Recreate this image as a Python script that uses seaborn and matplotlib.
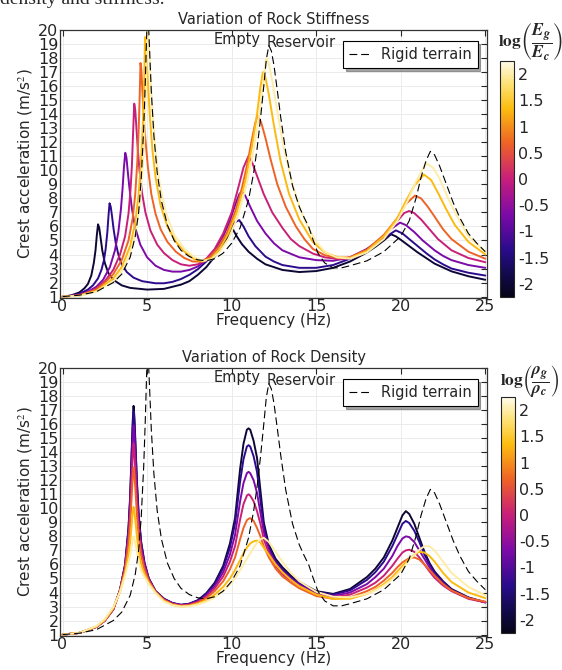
import numpy as np
import pandas as pd
import seaborn as sns
import matplotlib
matplotlib.use("Agg")
import matplotlib.pyplot as plt
from matplotlib.colors import LinearSegmentedColormap, Normalize
from matplotlib.cm import ScalarMappable

# ---- data, (frequency Hz, acceleration m/s2) ----
levels = [-2, -1.33, -0.67, 0, 0.67, 1.33, 2]

rigid = [(0, 1.0), (1, 1.1), (2, 1.35), (3, 2.0), (3.5, 2.6), (4, 3.8), (4.3, 5.3), (4.5, 7.0),
         (4.65, 9.3), (4.8, 13), (4.9, 16.5), (4.97, 19.5), (5.02, 21), (5.08, 20.5), (5.15, 18.5),
         (5.25, 15.6), (5.4, 12.5), (5.6, 9.8), (5.85, 7.8), (6.2, 6.1), (6.6, 5.0), (7, 4.3),
         (7.5, 3.85), (8, 3.62), (8.5, 3.55), (9, 3.7), (9.5, 4.1), (10, 4.8), (10.5, 5.9),
         (11, 7.9), (11.3, 9.8), (11.5, 11.5), (11.7, 13.6), (11.9, 16.0), (12.05, 17.9),
         (12.2, 18.9), (12.35, 18.5), (12.5, 17.5), (12.7, 15.7), (12.9, 13.8), (13.2, 11.3),
         (13.6, 8.9), (14, 7.4), (14.3, 6.6), (14.55, 6.0), (14.8, 5.1), (15.1, 4.1), (15.5, 3.4),
         (16, 3.05), (16.5, 3.05), (17, 3.2), (18, 3.55), (19, 4.2), (20, 5.3), (20.5, 6.4),
         (20.9, 8.0), (21.2, 9.5), (21.5, 10.7), (21.75, 11.35), (22, 11.1), (22.3, 10.3),
         (22.7, 9.0), (23.1, 7.7), (23.5, 6.6), (24, 5.5), (24.5, 4.8), (25, 4.2)]

# stiffness panel, one list per log(Eg/Ec) level
stiff_m2 = [(0, 1.0), (0.5, 1.08), (1, 1.3), (1.3, 1.6), (1.5, 1.9), (1.7, 2.5), (1.85, 3.4),
            (1.95, 4.3), (2.03, 5.4), (2.1, 6.15), (2.17, 5.9), (2.25, 5.2), (2.35, 4.3), (2.5, 3.4),
            (2.7, 2.7), (3, 2.2), (3.5, 1.8), (4, 1.62), (5, 1.5), (6, 1.55), (7, 1.85), (7.5, 2.1),
            (8, 2.55), (8.5, 3.1), (9, 3.85), (9.5, 4.7), (9.8, 5.3), (10.05, 5.85), (10.3, 5.3),
            (10.6, 4.75), (11, 4.2), (11.5, 3.7), (12, 3.3), (13, 2.9), (14, 2.75), (15, 2.82),
            (16, 3.05), (17, 3.5), (18, 4.15), (18.5, 4.55), (19, 5.0), (19.42, 5.44), (19.7, 5.3),
            (20, 5.05), (20.5, 4.6), (21, 4.15), (21.5, 3.75), (22, 3.35), (23, 2.8), (24, 2.45),
            (25, 2.2)]
stiff_m133 = [(0, 1.0), (0.5, 1.06), (1, 1.2), (1.5, 1.5), (1.8, 1.8), (2.1, 2.3), (2.3, 2.9),
              (2.45, 3.6), (2.55, 4.4), (2.65, 5.6), (2.72, 6.8), (2.78, 7.65), (2.85, 7.4),
              (2.93, 6.7), (3.02, 5.8), (3.15, 4.8), (3.3, 4.0), (3.5, 3.3), (3.8, 2.75), (4.2, 2.35),
              (4.7, 2.1), (5.5, 1.95), (6, 1.95), (6.5, 2.05), (7, 2.25), (7.5, 2.55), (8, 2.95),
              (8.5, 3.5), (9, 4.2), (9.5, 5.0), (9.9, 5.8), (10.2, 6.3), (10.45, 6.45), (10.7, 6.0),
              (11, 5.3), (11.4, 4.6), (12, 3.85), (12.5, 3.5), (13, 3.25), (14, 3.05), (15, 3.05),
              (16, 3.25), (17, 3.7), (18, 4.3), (18.8, 4.95), (19.3, 5.4), (19.71, 5.72), (20.1, 5.5),
              (20.5, 5.1), (21, 4.6), (21.5, 4.1), (22, 3.65), (22.5, 3.3), (23, 3.0), (24, 2.7),
              (25, 2.5)]
stiff_m067 = [(0, 1.0), (0.5, 1.05), (1, 1.15), (1.5, 1.35), (2, 1.7), (2.4, 2.2), (2.8, 3.1),
              (3.1, 4.3), (3.3, 5.6), (3.45, 7.2), (3.55, 8.7), (3.63, 10.2), (3.71, 11.25),
              (3.78, 10.9), (3.85, 10.0), (3.95, 8.8), (4.1, 7.3), (4.3, 5.9), (4.6, 4.7), (5, 3.8),
              (5.5, 3.2), (6, 2.9), (6.5, 2.78), (7, 2.78), (7.5, 2.9), (8, 3.15), (8.5, 3.6),
              (9, 4.3), (9.5, 5.3), (9.9, 6.4), (10.2, 7.5), (10.45, 8.3), (10.6, 8.5), (10.8, 8.2),
              (11.1, 7.4), (11.5, 6.4), (12, 5.5), (12.5, 4.8), (13, 4.3), (14, 3.8), (15, 3.6),
              (16, 3.55), (17, 3.8), (18, 4.4), (18.8, 5.1), (19.4, 5.8), (19.96, 6.27), (20.3, 6.1),
              (20.8, 5.6), (21.3, 5.0), (22, 4.3), (22.5, 3.9), (23, 3.6), (24, 3.25), (25, 3.05)]
stiff_0 = [(0, 1.0), (1, 1.1), (1.5, 1.28), (2, 1.6), (2.5, 2.1), (3, 2.9), (3.4, 4.0), (3.7, 5.3),
           (3.9, 6.9), (4.02, 8.6), (4.1, 10.3), (4.17, 12.6), (4.24, 14.75), (4.3, 14.3),
           (4.37, 13.0), (4.45, 11.5), (4.55, 10.0), (4.7, 8.4), (4.9, 7.0), (5.2, 5.7), (5.6, 4.7),
           (6, 4.1), (6.5, 3.6), (7, 3.3), (7.5, 3.2), (8, 3.3), (8.5, 3.7), (9, 4.4), (9.5, 5.5),
           (10, 7.0), (10.4, 8.8), (10.7, 10.2), (10.99, 11.0), (11.2, 10.6), (11.5, 9.6),
           (11.9, 8.3), (12.4, 7.0), (13, 5.9), (13.5, 5.1), (14, 4.6), (14.8, 4.07), (15.5, 3.8),
           (16.5, 3.65), (17, 3.75), (18, 4.3), (19, 5.3), (19.8, 6.4), (20.2, 6.95), (20.49, 7.1),
           (20.8, 6.95), (21.2, 6.5), (21.7, 5.8), (22.2, 5.1), (23, 4.3), (24, 3.75), (25, 3.45)]
stiff_067 = [(0, 1.0), (1, 1.08), (2, 1.5), (2.5, 2.0), (3, 2.6), (3.5, 3.6), (3.9, 5.0), (4.15, 6.6),
             (4.3, 8.3), (4.42, 10.6), (4.5, 12.8), (4.56, 15.2), (4.61, 17.65), (4.66, 17.2),
             (4.72, 15.7), (4.8, 14.0), (4.9, 12.2), (5.05, 10.2), (5.25, 8.3), (5.5, 6.9),
             (5.8, 5.8), (6.2, 4.9), (6.7, 4.2), (7.2, 3.75), (7.7, 3.5), (8.2, 3.5), (8.7, 3.8),
             (9.2, 4.5), (9.7, 5.5), (10.2, 7.0), (10.6, 8.7), (10.9, 10.3), (11.2, 12.2),
             (11.4, 13.4), (11.55, 13.9), (11.75, 13.4), (12, 12.3), (12.3, 10.8), (12.7, 9.0),
             (13.2, 7.4), (13.8, 6.0), (14.3, 5.1), (14.8, 4.4), (15.5, 3.95), (16.3, 3.75),
             (17, 3.8), (18, 4.35), (19, 5.4), (19.8, 6.6), (20.3, 7.6), (20.84, 8.2), (21.2, 8.0),
             (21.6, 7.4), (22, 6.7), (22.5, 5.8), (23, 5.1), (24, 4.2), (25, 3.7)]
stiff_133 = [(0, 1.0), (1, 1.07), (2, 1.4), (3, 2.3), (3.5, 3.1), (4, 4.6), (4.3, 6.3), (4.5, 8.3),
             (4.65, 10.8), (4.75, 13.3), (4.82, 16.0), (4.88, 19.5), (4.93, 19.0), (5.0, 17.4),
             (5.08, 15.6), (5.18, 13.6), (5.32, 11.4), (5.5, 9.5), (5.8, 7.5), (6.2, 6.0),
             (6.7, 4.9), (7.2, 4.2), (7.8, 3.65), (8.3, 3.5), (8.8, 3.75), (9.3, 4.4), (9.8, 5.5),
             (10.3, 7.0), (10.8, 9.2), (11.2, 11.7), (11.5, 14.0), (11.7, 15.9), (11.85, 17.0),
             (12.0, 16.6), (12.2, 15.4), (12.5, 13.2), (12.9, 10.6), (13.4, 8.3), (14, 6.5),
             (14.8, 4.9), (15.5, 4.15), (16.3, 3.8), (17, 3.75), (18, 4.25), (19, 5.3), (19.8, 6.6),
             (20.3, 7.8), (20.8, 8.9), (21.37, 9.7), (21.8, 9.3), (22.2, 8.4), (22.7, 7.2),
             (23.2, 6.1), (24, 4.9), (25, 4.0)]
stiff_2 = [(0, 1.0), (1, 1.05), (2, 1.35), (3, 2.1), (3.5, 2.8), (4, 4.1), (4.3, 5.4), (4.55, 7.4),
           (4.72, 9.8), (4.83, 12.2), (4.92, 15.2), (4.98, 18.0), (5.03, 19.9), (5.1, 19.0),
           (5.2, 16.8), (5.32, 14.2), (5.5, 11.4), (5.75, 9.0), (6.1, 7.0), (6.6, 5.4), (7.2, 4.4),
           (7.8, 3.8), (8.3, 3.55), (8.8, 3.65), (9.3, 4.2), (9.8, 5.1), (10.3, 6.5), (10.8, 8.6),
           (11.2, 10.8), (11.5, 12.9), (11.75, 15.0), (11.92, 16.8), (12.04, 18.0), (12.2, 17.6),
           (12.4, 16.4), (12.7, 14.2), (13.1, 11.5), (13.6, 9.0), (14.1, 7.1), (14.5, 6.0),
           (15, 4.9), (15.5, 4.2), (16.2, 3.8), (17, 3.7), (18, 4.15), (19, 5.1), (19.8, 6.4),
           (20.4, 7.8), (20.9, 9.2), (21.5, 10.5), (21.9, 10.2), (22.3, 9.4), (22.8, 8.0),
           (23.3, 6.8), (24, 5.3), (25, 4.2)]
stiff_curves = [stiff_m2, stiff_m133, stiff_m067, stiff_0, stiff_067, stiff_133, stiff_2]

# density panel, shared frequency grid, one list per log(rho_g/rho_c) level
dens_f = [0, 1, 2, 2.5, 3, 3.4, 3.7, 3.9, 4.0, 4.1, 4.15, 4.2, 4.25, 4.3, 4.4, 4.5, 4.65, 4.85,
          5.1, 5.5, 6, 6.5, 7, 7.5, 8, 8.5, 9, 9.5, 9.9, 10.2, 10.5, 10.7, 10.9, 11.0, 11.1, 11.3,
          11.5, 11.7, 11.9, 12.2, 12.6, 13, 13.5, 14, 15, 16, 17, 18, 18.5, 19, 19.5, 19.8, 20.1,
          20.3, 20.5, 20.8, 21.1, 21.4, 21.7, 22, 22.5, 23, 24, 25]
dens_m2 = [1.0, 1.12, 1.55, 2.0, 2.8,
           4.2, 6.0, 8.6, 10.9, 14.5, 16.2, 17.3, 16.5, 15.0, 11.9, 9.6, 7.6, 6.1, 5.0, 4.1,
           3.55, 3.25, 3.12, 3.2, 3.45, 3.95, 4.7, 5.9, 7.5,
           9.3, 12.8, 14.6, 15.6, 15.7, 15.6, 14.8, 13.6, 11.3, 9.0, 7.4, 6.4, 5.8, 5.2, 4.75,
           4.1, 3.9, 4.25, 5.1, 5.7, 6.5, 7.7, 8.6, 9.5, 9.8, 9.6, 8.9, 7.9, 6.9, 6.1, 5.5, 4.8,
           4.25, 3.65, 3.3]
dens_m133 = [1.0, 1.12, 1.55, 2.0, 2.8,
             4.19, 5.97, 8.5, 10.7, 14.2, 15.8, 16.9, 16.1, 14.7, 11.7, 9.45, 7.5, 6.05, 5.0, 4.1,
             3.55, 3.25, 3.12, 3.2, 3.43, 3.9, 4.6, 5.75, 7.2,
             8.9, 11.9, 13.5, 14.4, 14.5, 14.4, 13.7, 12.6, 10.6, 8.7, 7.2, 6.25, 5.65, 5.1, 4.65,
             4.05, 3.85, 4.15, 4.9, 5.45, 6.2, 7.3, 8.1, 8.9, 9.1, 8.95, 8.4, 7.6, 6.7, 6.0, 5.4,
             4.75, 4.2, 3.63, 3.3]
dens_m067 = [1.0, 1.12, 1.55, 2.0, 2.8,
             4.18, 5.88, 8.2, 10.26, 13.4, 14.9, 15.9, 15.2, 13.9, 11.1, 9.1, 7.3, 5.95, 4.94, 4.08,
             3.5, 3.22, 3.1, 3.17, 3.38, 3.8, 4.45, 5.45, 6.7,
             8.1, 10.5, 11.8, 12.5, 12.6, 12.5, 12.0, 11.1, 9.7, 8.3, 7.0, 6.1, 5.5, 5.0, 4.55,
             3.95, 3.75, 4.0, 4.6, 5.1, 5.7, 6.6, 7.3, 7.85, 8.0, 7.95, 7.6, 7.0, 6.4, 5.8, 5.25,
             4.65, 4.15, 3.6, 3.3]
dens_0 = [1.0, 1.12, 1.55, 2.0, 2.8,
          4.15, 5.77, 7.9, 9.66, 12.4, 13.75, 14.6, 14.0, 12.8, 10.4, 8.6, 7.0, 5.8, 4.9, 4.05,
          3.5, 3.2, 3.08, 3.13, 3.33, 3.7, 4.3, 5.15, 6.2,
          7.3, 9.2, 10.3, 10.9, 11.0, 10.9, 10.5, 9.8, 8.9, 7.8, 6.8, 5.9, 5.3, 4.85, 4.45,
          3.85, 3.65, 3.85, 4.35, 4.7, 5.2, 5.9, 6.4, 6.85, 7.0, 7.05, 6.9, 6.5, 6.0, 5.5, 5.05,
          4.5, 4.1, 3.55, 3.3]
dens_067 = [1.0, 1.12, 1.55, 2.0, 2.82,
            4.13, 5.63, 7.44, 8.9, 11.1, 12.2, 12.9, 12.4, 11.5, 9.5, 8.0, 6.6, 5.6, 4.8, 4.03,
            3.45, 3.17, 3.05, 3.1, 3.28, 3.6, 4.1, 4.8, 5.65,
            6.5, 7.8, 8.6, 9.15, 9.25, 9.3, 9.1, 8.6, 8.0, 7.3, 6.5, 5.7, 5.15, 4.7, 4.3,
            3.75, 3.55, 3.65, 4.1, 4.4, 4.85, 5.4, 5.8, 6.15, 6.3, 6.45, 6.5, 6.35, 6.0, 5.6, 5.2,
            4.6, 4.15, 3.6, 3.35]
dens_133 = [1.0, 1.13, 1.58, 2.05, 2.9,
            4.08, 5.39, 6.7, 7.6, 9.0, 9.7, 10.1, 9.8, 9.2, 8.0, 7.0, 6.0, 5.3, 4.7, 4.0,
            3.4, 3.12, 3.0, 3.05, 3.2, 3.45, 3.85, 4.4, 5.0,
            5.6, 6.3, 6.8, 7.2, 7.35, 7.5, 7.65, 7.7, 7.55, 7.2, 6.7, 6.0, 5.45, 4.9, 4.45,
            3.85, 3.55, 3.55, 3.9, 4.2, 4.6, 5.1, 5.5, 5.9, 6.15, 6.4, 6.7, 6.9, 6.85, 6.6, 6.2,
            5.4, 4.75, 4.0, 3.6]
dens_2 = [1.0, 1.13, 1.6, 2.1, 2.95,
          4.04, 5.2, 6.16, 6.64, 7.4, 7.8, 8.0, 7.8, 7.5, 6.9, 6.2, 5.55, 5.1, 4.6, 3.95,
          3.35, 3.1, 3.0, 3.02, 3.15, 3.35, 3.65, 4.1, 4.6,
          5.0, 5.6, 6.0, 6.4, 6.6, 6.8, 7.2, 7.55, 7.8, 7.9, 7.6, 6.9, 6.2, 5.4, 4.8,
          4.05, 3.7, 3.65, 3.9, 4.15, 4.5, 4.95, 5.3, 5.7, 6.0, 6.3, 6.7, 7.05, 7.3, 7.3, 7.0,
          6.2, 5.4, 4.4, 3.8]
dens_curves = [dens_m2, dens_m133, dens_m067, dens_0, dens_067, dens_133, dens_2]

ticks_cb = [-2, -1.5, -1, -0.5, 0, 0.5, 1, 1.5, 2]
xticks = [0, 5, 10, 15, 20, 25]
yticks = list(range(1, 21))

# ---- style ----
sns.set_style("white")
plt.rcParams["font.family"] = ["DejaVu Sans"]
plt.rcParams["mathtext.fontset"] = "stix"

cmap = LinearSegmentedColormap.from_list(
    "rock", [(0.0, "#060418"), (0.1, "#130a4e"), (0.2, "#2a0b8c"), (0.35, "#7d0aa8"),
             (0.5, "#c81e7a"), (0.65, "#ee6226"), (0.8, "#fcbc10"), (0.9, "#fde070"),
             (1.0, "#fffbea")])
norm = Normalize(-2.25, 2.25)


def make_long(freqs, accs):
    rows = []
    for lev, f, a in zip(levels, freqs, accs):
        rows.append(pd.DataFrame({"freq": f, "acc": a, "level": lev}))
    return pd.concat(rows, ignore_index=True)


def panel(fig, rect, cbrect, df, title, cblabel):
    ax = fig.add_axes(rect)
    sns.lineplot(data=df, x="freq", y="acc", hue="level", palette=cmap, hue_norm=norm,
                 units="level", estimator=None, legend=False, linewidth=1.4, ax=ax)
    rf, ra = zip(*rigid)
    sns.lineplot(x=list(rf), y=list(ra), color="black", linewidth=0.8, label="Rigid terrain",
                 estimator=None, ax=ax)
    ax.lines[-1].set_dashes([7, 3.5])
    ax.set_xlim(-0.15, 25.1)
    ax.set_ylim(0.9, 20.0)
    ax.set_xticks(xticks)
    ax.set_yticks(yticks)
    ax.tick_params(direction="in", length=4, labelsize=11.5, top=True, right=True, pad=1)
    ax.grid(True, color="#ebebeb", linewidth=0.7)
    for s in ax.spines.values():
        s.set_color("#333333")
        s.set_linewidth(0.9)
    ax.set_xlabel("Frequency (Hz)", fontsize=11, labelpad=-1)
    ax.set_ylabel("Crest acceleration (m/s$^2$)", fontsize=11, labelpad=2)
    ax.set_title(title, fontsize=10.5, pad=4)
    ax.text(10.3, 19.3, "Empty", fontsize=10.5, ha="center", va="center")
    ax.text(14.1, 19.1, "Reservoir", fontsize=10.5, ha="center", va="center")
    leg = ax.legend(loc="upper right", fontsize=10.5, fancybox=False, shadow=True,
                    framealpha=1, edgecolor="black", handlelength=1.6, handletextpad=0.6,
                    borderaxespad=0.5, bbox_to_anchor=(0.995, 0.985))
    leg.get_frame().set_linewidth(0.8)

    cax = fig.add_axes(cbrect)
    cb = fig.colorbar(ScalarMappable(norm=norm, cmap=cmap), cax=cax, ticks=ticks_cb)
    cb.ax.set_yticklabels([f"{t:g}" for t in ticks_cb])
    cb.ax.tick_params(labelsize=11.5, direction="in", length=3, pad=3)
    cb.outline.set_linewidth(0.8)
    fig.text(530 / 562, rect[1] + rect[3] - 0.019, cblabel,
             fontsize=12.5, ha="center", va="center", zorder=10)
    return ax


fig = plt.figure(figsize=(5.62, 6.70), dpi=100)
fig.text(0.0, 0.994, "density and stiffness.", fontsize=14, family="Liberation Serif",
         ha="left", va="baseline")

W, H = 562, 670
top_rect = [60 / W, 1 - 298 / H, 427 / W, 268 / H]
bot_rect = [60 / W, 1 - 636 / H, 427 / W, 268 / H]
top_cb = [500 / W, 1 - 297 / H, 14 / W, 236 / H]
bot_cb = [501 / W, 1 - 633 / H, 14 / W, 236 / H]

stiff_f = [[p[0] for p in c] for c in stiff_curves]
stiff_a = [[p[1] for p in c] for c in stiff_curves]
panel(fig, top_rect, top_cb, make_long(stiff_f, stiff_a), "Variation of Rock Stiffness",
      r"$\mathbf{log}\left(\dfrac{\mathbfit{E_g}}{\mathbfit{E_c}}\right)$")
panel(fig, bot_rect, bot_cb, make_long([dens_f] * 7, dens_curves), "Variation of Rock Density",
      r"$\mathbf{log}\left(\dfrac{\mathbfit{\rho_g}}{\mathbfit{\rho_c}}\right)$")

fig.savefig("out.png", dpi=100)
